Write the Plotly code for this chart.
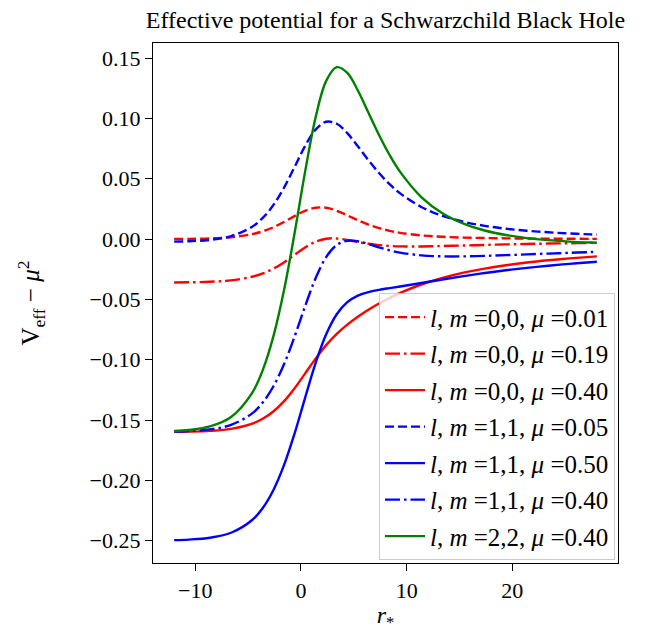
import plotly.graph_objects as go

# tortoise coordinate r_*
r_star = [-12.0, -10.614, -8.614, -6.614, -4.614, -3.614, -2.614, -1.614, -0.614,
          0.386, 1.386, 2.386, 3.386, 4.386, 5.386, 6.386, 7.386, 8.386, 9.386,
          11.386, 13.386, 15.386, 17.386, 19.386, 21.386, 23.386, 25.386, 27.386, 28.0]

v_l0_mu001 = [0.00001, 0.00013, 0.00051, 0.00153, 0.00409, 0.00643, 0.00976, 0.01409, 0.01898,
              0.02339, 0.02598, 0.02592, 0.02344, 0.01963, 0.01558, 0.01197, 0.00907, 0.00684, 0.00518,
              0.00305, 0.00188, 0.00121, 0.00082, 0.00057, 0.00041, 0.00030, 0.00023, 0.00017, 0.00016]
v_l0_mu019 = [-0.03597, -0.03584, -0.03540, -0.03423, -0.03128, -0.02854, -0.02460, -0.01936, -0.01317,
              -0.00698, -0.00218, 0.00029, 0.00047, -0.00076, -0.00243, -0.00392, -0.00501, -0.00569, -0.00604,
              -0.00612, -0.00579, -0.00534, -0.00488, -0.00445, -0.00407, -0.00373, -0.00344, -0.00318, -0.00311]
v_l0_mu040 = [-0.15981, -0.15963, -0.15899, -0.15731, -0.15299, -0.14891, -0.14289, -0.13451, -0.12379,
              -0.11150, -0.09909, -0.08792, -0.07859, -0.07090, -0.06438, -0.05862, -0.05347, -0.04882, -0.04466,
              -0.03767, -0.03219, -0.02788, -0.02446, -0.02171, -0.01946, -0.01761, -0.01605, -0.01473, -0.01437]
v_l1_mu005 = [-0.00216, -0.00182, -0.00065, 0.00243, 0.01026, 0.01755, 0.02813, 0.04239, 0.05954,
              0.07702, 0.09073, 0.09721, 0.09559, 0.08780, 0.07688, 0.06534, 0.05469, 0.04550, 0.03788,
              0.02661, 0.01923, 0.01432, 0.01095, 0.00859, 0.00687, 0.00560, 0.00464, 0.00389, 0.00370]
v_l1_mu050 = [-0.24954, -0.24909, -0.24754, -0.24343, -0.23287, -0.22290, -0.20815, -0.18762, -0.16144,
              -0.13177, -0.10286, -0.07899, -0.06234, -0.05233, -0.04688, -0.04393, -0.04210, -0.04065, -0.03928,
              -0.03642, -0.03350, -0.03071, -0.02817, -0.02589, -0.02389, -0.02212, -0.02056, -0.01918, -0.01879]
v_l1_mu040 = [-0.15959, -0.15917, -0.15776, -0.15403, -0.14446, -0.13547, -0.12223, -0.10398, -0.08108,
              -0.05585, -0.03246, -0.01492, -0.00491, -0.00137, -0.00188, -0.00419, -0.00690, -0.00933, -0.01122,
              -0.01350, -0.01433, -0.01434, -0.01394, -0.01335, -0.01270, -0.01204, -0.01140, -0.01079, -0.01062]
v_l2_mu040 = [-0.15913, -0.15827, -0.15531, -0.14746, -0.12741, -0.10858, -0.08092, -0.04293, 0.00433,
              0.05546, 0.10079, 0.13109, 0.14245, 0.13769, 0.12313, 0.10467, 0.08623, 0.06967, 0.05566,
              0.03485, 0.02140, 0.01274, 0.00709, 0.00335, 0.00082, -0.00090, -0.00209, -0.00291, -0.00311]

labels = ["<i>l</i>, <i>m</i> =0,0, <i>μ</i> =0.01",
          "<i>l</i>, <i>m</i> =0,0, <i>μ</i> =0.19",
          "<i>l</i>, <i>m</i> =0,0, <i>μ</i> =0.40",
          "<i>l</i>, <i>m</i> =1,1, <i>μ</i> =0.05",
          "<i>l</i>, <i>m</i> =1,1, <i>μ</i> =0.50",
          "<i>l</i>, <i>m</i> =1,1, <i>μ</i> =0.40",
          "<i>l</i>, <i>m</i> =2,2, <i>μ</i> =0.40"]

x_tickvals = [-10, 0, 10, 20]
x_ticktext = ["−10", "0", "10", "20"]
y_tickvals = [0.15, 0.10, 0.05, 0.0, -0.05, -0.10, -0.15, -0.20, -0.25]
y_ticktext = ["0.15", "0.10", "0.05", "0.00", "−0.05", "−0.10", "−0.15", "−0.20", "−0.25"]

values = [v_l0_mu001, v_l0_mu019, v_l0_mu040, v_l1_mu005, v_l1_mu050, v_l1_mu040, v_l2_mu040]

DASH = "9px,4px"
DASHDOT = "15px,4px,2.5px,4px"
styles = [("#ff0000", DASH), ("#ff0000", DASHDOT), ("#ff0000", "solid"),
          ("#0000ff", DASH), ("#0000ff", "solid"), ("#0000ff", DASHDOT),
          ("#008000", "solid")]

FONT = "Liberation Serif, Times New Roman, serif"

fig = go.Figure()
for i, (lab, vals, (col, dash)) in enumerate(zip(labels, values, styles)):
    fig.add_trace(go.Scatter(
        x=r_star, y=vals, mode="lines", name=lab, legendgroup=f"g{i}",
        line=dict(color=col, width=2.4, dash=dash, shape="spline", smoothing=1.0),
    ))

axis_common = dict(showline=True, mirror=True, linecolor="black", linewidth=1.3,
                   ticks="outside", ticklen=7, tickwidth=1.3, tickcolor="black",
                   showgrid=False, zeroline=False,
                   tickfont=dict(family=FONT, size=22, color="black"))

fig.update_layout(
    width=645, height=635,
    margin=dict(l=145, r=35, t=35, b=80),
    paper_bgcolor="white", plot_bgcolor="white",
    font=dict(family=FONT, size=22, color="black"),
    title=dict(text="Effective potential for a Schwarzchild Black Hole",
               x=0.5, xref="paper", xanchor="center",
               y=0.995, yref="container", yanchor="top",
               font=dict(family=FONT, size=24, color="black")),
    xaxis=dict(range=[-14, 30], tickvals=x_tickvals, ticktext=x_ticktext,
               title=dict(text="<i>r</i><sub>*</sub>", standoff=4,
                          font=dict(family=FONT, size=24)),
               **axis_common),
    yaxis=dict(range=[-0.2685, 0.1625], tickvals=y_tickvals, ticktext=y_ticktext,
               title=dict(text="V<sub>eff</sub> − <i>μ</i><sup>2</sup>", standoff=42,
                          font=dict(family=FONT, size=25)),
               **axis_common),
    legend=dict(x=0.9935, xanchor="right", y=0.005, yanchor="bottom",
                bgcolor="rgba(255,255,255,0.8)", bordercolor="#cccccc", borderwidth=1,
                font=dict(family=FONT, size=25, color="black"),
                tracegroupgap=1, itemwidth=40),
    showlegend=True,
)

fig.write_html("out.html")
